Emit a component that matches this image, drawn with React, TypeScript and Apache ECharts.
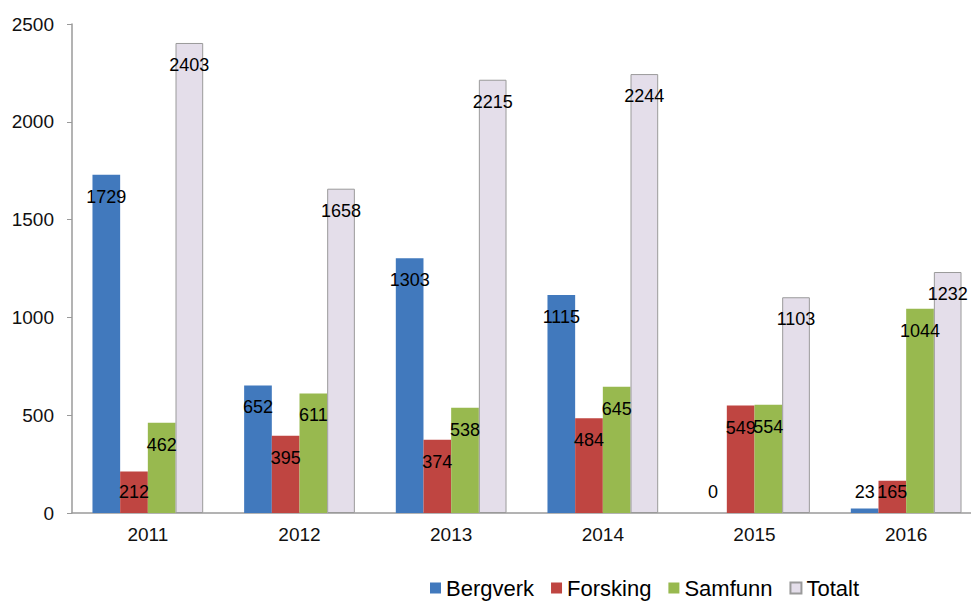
import React, { useEffect, useRef } from "react";
import * as echarts from "echarts";

const categories = ["2011", "2012", "2013", "2014", "2015", "2016"];
const bergverk = [1729, 652, 1303, 1115, 0, 23];
const forsking = [212, 395, 374, 484, 549, 165];
const samfunn = [462, 611, 538, 645, 554, 1044];
const totalt = [2403, 1658, 2215, 2244, 1103, 1232];
const seriesNames = ["Bergverk", "Forsking", "Samfunn", "Totalt"];
const yTicks = { min: 0, max: 2500, interval: 500 };

const FONT = "'Liberation Sans', Arial, sans-serif";

function labelled(values: number[]) {
  return values.map((v) =>
    v < 250
      ? { value: v, label: { position: "insideBottom", distance: 12 } }
      : { value: v }
  );
}

export default function App() {
  const ref = useRef<HTMLDivElement>(null);
  useEffect(() => {
    document.body.style.margin = "0";
    const chart = echarts.init(ref.current!, null, { renderer: "svg" });
    const baseLabel = {
      show: true,
      position: "insideTop",
      distance: 13,
      color: "#000",
      fontSize: 18,
      fontFamily: FONT,
    };
    const mk = (name: string, data: number[], color: string, border?: string) => ({
      name,
      type: "bar",
      data: labelled(data),
      barGap: "0%",
      barCategoryGap: "27%",
      itemStyle: border
        ? { color, borderColor: border, borderWidth: 1 }
        : { color },
      label: baseLabel,
    });
    chart.setOption({
      animation: false,
      backgroundColor: "#fff",
      grid: { left: 72, top: 24, height: 489, width: 910, outerBoundsMode: "none", containLabel: false },
      legend: {
        data: seriesNames,
        left: 430,
        top: 577,
        icon: "rect",
        itemWidth: 11,
        itemHeight: 11,
        itemGap: 17,
        padding: 0,
        textStyle: { fontSize: 22, color: "#000", fontFamily: FONT },
      },
      xAxis: {
        type: "category",
        data: categories,
        axisLine: { lineStyle: { color: "#9a9a9a", width: 1.5 } },
        axisTick: { show: false },
        axisLabel: { fontSize: 19, color: "#111", fontFamily: FONT, margin: 12 },
      },
      yAxis: {
        type: "value",
        min: yTicks.min,
        max: yTicks.max,
        interval: yTicks.interval,
        splitLine: { show: false },
        axisLine: { show: true, lineStyle: { color: "#9a9a9a", width: 1.5 } },
        axisTick: { show: true, length: 5, lineStyle: { color: "#9a9a9a" } },
        axisLabel: {
          fontSize: 19,
          color: "#111",
          fontFamily: FONT,
          margin: 18,
          formatter: (v: number) => String(v),
        },
      },
      series: [
        mk(seriesNames[0], bergverk, "#4179BD"),
        mk(seriesNames[1], forsking, "#BF4541"),
        mk(seriesNames[2], samfunn, "#98B94F"),
        mk(seriesNames[3], totalt, "#E4DEEA", "#9a9a9a"),
      ],
    });
    return () => chart.dispose();
  }, []);
  return <div ref={ref} style={{ width: 971, height: 601 }} />;
}
